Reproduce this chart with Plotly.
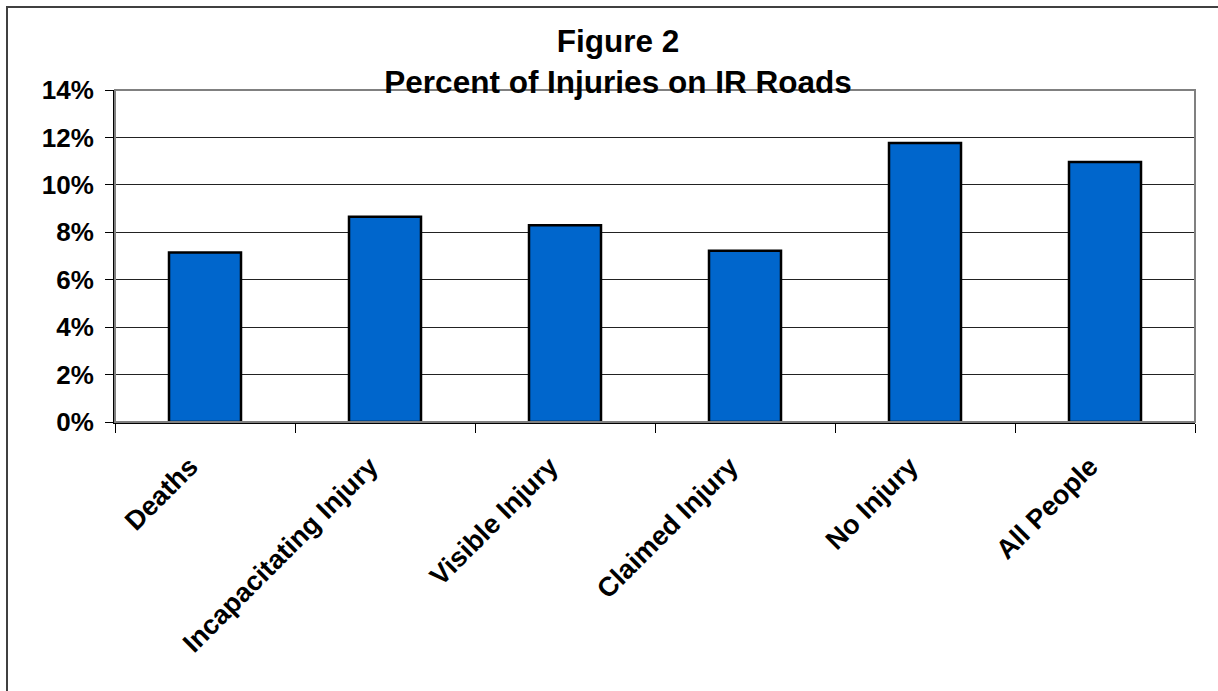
import plotly.graph_objects as go

# data
categories = ["Deaths", "Incapacitating Injury", "Visible Injury", "Claimed Injury", "No Injury", "All People"]
percent_on_ir = [7.15, 8.65, 8.30, 7.22, 11.77, 10.96]
y_ticks = [0, 2, 4, 6, 8, 10, 12, 14]
y_tick_labels = [f"{v}%" for v in y_ticks]

W, H = 1218, 691
L, R, T, B = 115, 23, 90, 269
plot_w = W - L - R
plot_h = H - T - B

FONT = "Arial, Liberation Sans, sans-serif"

fig = go.Figure()
fig.add_trace(
    go.Bar(
        x=categories,
        y=percent_on_ir,
        width=0.4,
        marker=dict(color="#0066CC", line=dict(color="#000000", width=2.5)),
    )
)

fig.update_layout(
    width=W,
    height=H,
    margin=dict(l=L, r=R, t=T, b=B, pad=0),
    paper_bgcolor="white",
    plot_bgcolor="white",
    showlegend=False,
    title=dict(
        text="<b>Figure 2<br>Percent of Injuries on IR Roads</b>",
        x=618 / W,
        xanchor="center",
        y=1 - 52 / H,
        yanchor="top",
        yref="container",
        font=dict(family=FONT, size=31.5, color="black"),
    ),
    shapes=[
        # outer chart border
        dict(
            type="rect", xref="paper", yref="paper", layer="below",
            x0=(7 - L) / plot_w, x1=(W + 10 - L) / plot_w,
            y0=(plot_h + T - H - 10) / plot_h, y1=(plot_h + T - 7) / plot_h,
            line=dict(color="#404040", width=2),
        ),
        # grey plot area frame (top and right)
        dict(
            type="rect", xref="paper", yref="paper", layer="above",
            x0=0, x1=1, y0=0, y1=1,
            line=dict(color="#808080", width=2),
        ),
    ],
)

fig.update_xaxes(
    type="category",
    tickangle=-45,
    tickson="boundaries",
    ticks="outside",
    ticklen=9,
    tickwidth=1,
    tickcolor="black",
    showline=True,
    linecolor="black",
    linewidth=2,
    showgrid=False,
    ticklabelstandoff=16,
    ticklabelshift=-15,
    tickfont=dict(family=FONT, size=27, color="black", weight="bold"),
)

fig.update_yaxes(
    range=[0, 14],
    tickvals=y_ticks,
    ticktext=y_tick_labels,
    ticks="outside",
    ticklen=8,
    tickwidth=1,
    tickcolor="black",
    showline=True,
    linecolor="black",
    linewidth=2,
    showgrid=True,
    gridcolor="#222222",
    gridwidth=1,
    zeroline=False,
    ticklabelstandoff=6,
    tickfont=dict(family=FONT, size=26, color="black", weight="bold"),
)

fig.write_html(
    "out.html",
    config={"displayModeBar": False},
    post_script="document.body.style.margin = '0';",
)
